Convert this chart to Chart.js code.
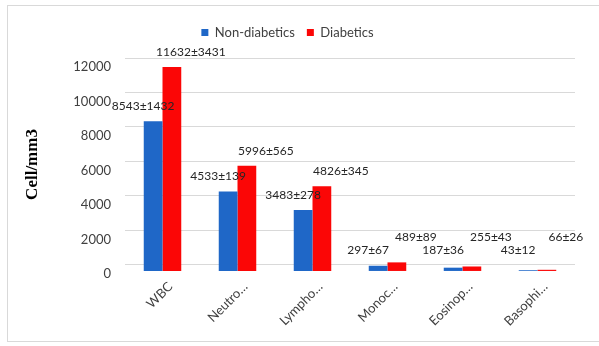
<!DOCTYPE html>
<html>
<head>
<meta charset="utf-8">
<script src="https://cdn.jsdelivr.net/npm/chart.js@4/dist/chart.umd.min.js"></script>
<style>
  html, body { margin: 0; padding: 0; background: #ffffff; }
  #wrap { position: relative; width: 599px; height: 346px; }
</style>
</head>
<body>
<div id="wrap"><canvas id="c" width="599" height="346"></canvas></div>
<script>
const categories = ['WBC', 'Neutro…', 'Lympho…', 'Monoc…', 'Eosinop…', 'Basophi…'];
const seriesNames = ['Non-diabetics', 'Diabetics'];
const nonDiabeticMean = [8543, 4533, 3483, 297, 187, 43];
const nonDiabeticSD   = [1432, 139, 278, 67, 36, 12];
const diabeticMean    = [11632, 5996, 4826, 489, 255, 66];
const diabeticSD      = [3431, 565, 345, 89, 43, 26];
const yTicks = [0, 2000, 4000, 6000, 8000, 10000, 12000];

const BLUE = '#1f67c7';
const RED = '#fb0606';
const sdLists = [nonDiabeticSD, diabeticSD];

const frame = {
  id: 'frame',
  beforeLayout(chart) {
    const lg = chart.legend;
    if (lg && !lg._extraGap) {
      const orig = lg.fit;
      lg.fit = function () { orig.call(this); this.height += 9; };
      lg._extraGap = true;
    }
  },
  beforeDraw(chart) {
    const ctx = chart.ctx;
    ctx.save();
    ctx.fillStyle = '#ffffff';
    ctx.fillRect(0, 0, chart.width, chart.height);
    ctx.strokeStyle = '#d9d9d9';
    ctx.lineWidth = 1;
    ctx.strokeRect(7.5, 5.5, chart.width + 5, 336);
    ctx.restore();
  }
};

const valueLabels = {
  id: 'valueLabels',
  afterDatasetsDraw(chart) {
    const ctx = chart.ctx;
    ctx.save();
    ctx.font = '12px Lato';
    ctx.fillStyle = '#262626';
    ctx.textAlign = 'center';
    ctx.textBaseline = 'middle';
    chart.data.datasets.forEach((ds, di) => {
      const meta = chart.getDatasetMeta(di);
      meta.data.forEach((bar, i) => {
        const txt = ds.data[i] + '±' + sdLists[di][i];
        const dx = di === 0 ? -10 : 19;
        const minLift = di === 0 ? 21 : 34;
        const y = Math.min(bar.y - 15, bar.base - minLift);
        ctx.fillText(txt, bar.x + dx, y);
      });
    });
    ctx.restore();
  }
};

new Chart(document.getElementById('c'), {
  type: 'bar',
  data: {
    labels: categories,
    datasets: [
      { label: seriesNames[0], data: nonDiabeticMean, backgroundColor: BLUE, yAxisID: 'yb' },
      { label: seriesNames[1], data: diabeticMean, backgroundColor: RED, yAxisID: 'yb' }
    ]
  },
  options: {
    responsive: false,
    animation: false,
    devicePixelRatio: 1,
    layout: { padding: { top: 14, right: 24, left: 0, bottom: 17 } },
    datasets: { bar: { categoryPercentage: 0.5, barPercentage: 1.0 } },
    plugins: {
      legend: {
        position: 'top',
        labels: {
          boxWidth: 7, boxHeight: 7, padding: 12,
          color: '#404040',
          font: { family: 'Lato', size: 13 }
        }
      },
      tooltip: { enabled: false }
    },
    scales: {
      x: {
        grid: { display: false },
        border: { display: false },
        ticks: {
          color: '#404040',
          font: { family: 'Lato', size: 13 },
          maxRotation: 45, minRotation: 45,
          padding: 0,
          labelOffset: 8
        }
      },
      y: {
        position: 'left',
        min: -350, max: 12000,
        afterBuildTicks(scale) { scale.ticks = yTicks.map(v => ({ value: v })); },
        afterFit(scale) { scale.width = 125; },
        grid: { color: '#d9d9d9', drawTicks: false },
        border: { display: false },
        ticks: {
          color: '#404040',
          font: { family: 'Lato', size: 13 },
          padding: 14,
          labelOffset: 9,
          callback: (v) => String(v)
        },
        title: {
          display: true,
          text: 'Cell/mm3',
          color: '#000000',
          font: { family: 'Liberation Serif', size: 17, weight: 'bold' },
          padding: { top: 22, bottom: 0 }
        }
      },
      yb: {
        display: false,
        min: 0, max: 12149
      }
    }
  },
  plugins: [frame, valueLabels]
});
</script>
</body>
</html>
